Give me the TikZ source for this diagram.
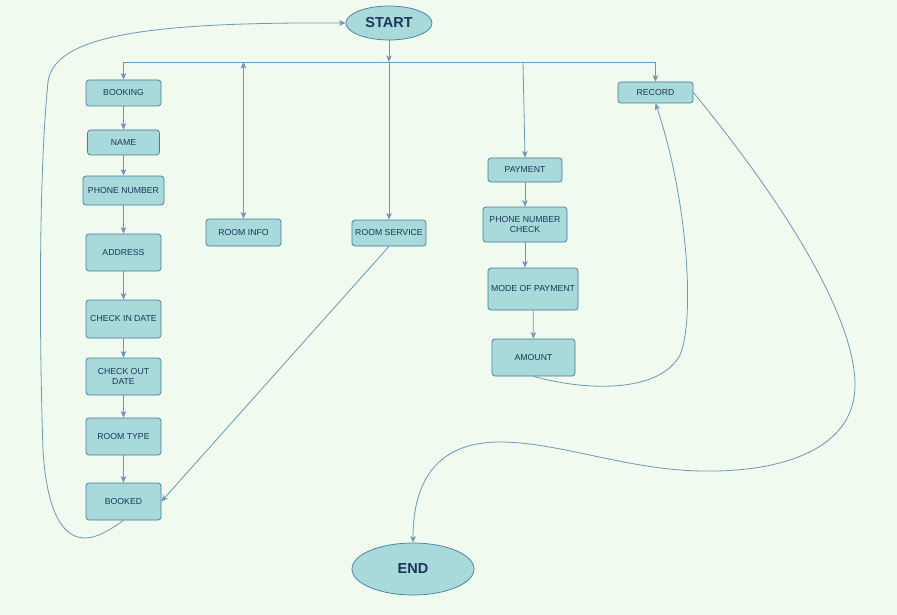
\documentclass[tikz,border=0pt]{standalone}
\usepackage{fontspec}
\setmainfont{Liberation Sans}
\usetikzlibrary{arrows.meta,shapes.geometric}
\definecolor{bgc}{HTML}{F1FAEE}
\definecolor{boxfill}{HTML}{A8DADC}
\definecolor{boxline}{HTML}{457B9D}
\definecolor{txt}{HTML}{1D3557}
\definecolor{conn}{HTML}{6A98B7}
\begin{document}
\begin{tikzpicture}[x=1pt,y=-1pt,
  stepbox/.style={draw=boxline,fill=boxfill,rounded corners=3pt,line width=0.7pt,
    inner sep=0pt,align=center,text=txt,font=\fontsize{8.7}{10}\selectfont},
  termnode/.style={ellipse,draw=boxline,fill=boxfill,line width=0.7pt,inner sep=0pt,
    text=txt,font=\fontsize{14.5}{16}\selectfont\bfseries},
  conline/.style={draw=conn,line width=0.8pt},
  tipa/.tip={Stealth[length=6.5pt,width=5.5pt,inset=1.6pt]},
  arr/.style={conline,-tipa},
  barr/.style={conline,tipa-tipa}
]
\fill[bgc] (0,0) rectangle (897,615);
\useasboundingbox (0,0) rectangle (897,615);

% terminals
\node[termnode,minimum width=86pt,minimum height=34pt] (start) at (389,23) {START};
\node[termnode,minimum width=122pt,minimum height=52pt] (end) at (413,569) {END};

% booking column
\node[stepbox,minimum width=75pt,minimum height=26pt] (booking) at (123.5,93) {BOOKING};
\node[stepbox,minimum width=72pt,minimum height=25pt] (name) at (123.5,142.5) {NAME};
\node[stepbox,minimum width=81pt,minimum height=29pt] (phone) at (123.5,190.5) {PHONE NUMBER};
\node[stepbox,minimum width=75pt,minimum height=37pt] (address) at (123.5,252.5) {ADDRESS};
\node[stepbox,minimum width=75pt,minimum height=38pt] (checkin) at (123.5,319) {CHECK IN DATE};
\node[stepbox,minimum width=75pt,minimum height=37pt] (checkout) at (123.5,376.5) {CHECK OUT\\DATE};
\node[stepbox,minimum width=75pt,minimum height=37pt] (roomtype) at (123.5,436.5) {ROOM TYPE};
\node[stepbox,minimum width=75pt,minimum height=37pt] (booked) at (123.5,501.5) {BOOKED};

% middle
\node[stepbox,minimum width=75pt,minimum height=27pt] (roominfo) at (243.5,232.5) {ROOM INFO};
\node[stepbox,minimum width=74pt,minimum height=26pt] (roomserv) at (389,233) {ROOM SERVICE};

% payment column
\node[stepbox,minimum width=74pt,minimum height=24pt] (payment) at (525,170) {PAYMENT};
\node[stepbox,minimum width=84pt,minimum height=35pt] (phonecheck) at (525,224.5) {PHONE NUMBER\\CHECK};
\node[stepbox,minimum width=90pt,minimum height=42pt] (mode) at (533,289) {MODE OF PAYMENT};
\node[stepbox,minimum width=83pt,minimum height=37pt] (amount) at (533.5,357.5) {AMOUNT};
\node[stepbox,minimum width=75pt,minimum height=21pt] (record) at (655.5,92.5) {RECORD};

% junction coordinates on the bus
\coordinate (jc) at (389,62);
\coordinate (jl) at (123.5,62);
\coordinate (jr) at (655.5,62);
\coordinate (jp) at (523,62);
\coordinate (ji) at (243.5,62);

% bus
\draw[conline] (jl) -- (jr);
\draw[arr] (start) -- (jc);
\draw[arr] (jc) -- (roomserv);
\draw[arr] (jl) -- (booking);
\draw[arr] (jr) -- (record);
\draw[arr] (jp) -- (payment.north);
\draw[barr] (ji) -- (roominfo);

% booking chain
\draw[arr] (booking) -- (name);
\draw[arr] (name) -- (phone);
\draw[arr] (phone) -- (address);
\draw[arr] (address) -- (checkin);
\draw[arr] (checkin) -- (checkout);
\draw[arr] (checkout) -- (roomtype);
\draw[arr] (roomtype) -- (booked);

% payment chain
\draw[arr] (payment) -- (phonecheck);
\draw[arr] (phonecheck.south) -- (phonecheck.south |- mode.north);
\draw[arr] (mode) -- (amount);

% room service to booked
\draw[arr] (roomserv.south) -- (booked.east);

% booked back to start
\draw[arr] (booked.south) .. controls (110,530) and (97,538) .. (85,538)
  .. controls (58,538) and (46,500) .. (43,450)
  .. controls (39,330) and (39,170) .. (48,82)
  .. controls (54,35) and (150,22) .. (start.west);

% amount to record
\draw[arr] (amount.south) .. controls (590,392) and (660,392) .. (680,355)
  .. controls (695,320) and (688,200) .. (record.south);

% record to end
\draw[arr] (record.east) .. controls (790,210) and (855,320) .. (855,385)
  .. controls (855,450) and (780,472) .. (705,471)
  .. controls (630,471) and (560,442) .. (500,442)
  .. controls (430,442) and (413,490) .. (end.north);
\end{tikzpicture}
\end{document}
